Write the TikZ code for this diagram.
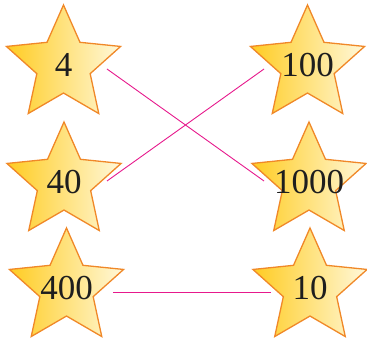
\documentclass[tikz,border=0pt]{standalone}
\usepackage{fontspec}
\setmainfont{Liberation Serif}
\usepackage{tikz}
\usetikzlibrary{shapes.geometric}
\definecolor{oro}{RGB}{255,204,34}
\definecolor{crema}{RGB}{255,248,218}
\definecolor{borde}{RGB}{240,136,40}
\definecolor{rosa}{RGB}{230,25,140}
\definecolor{tinta}{RGB}{30,30,30}
\tikzset{
  estrella/.style={star, star points=5, star point ratio=2.14, minimum size=120pt, inner sep=0pt,
    draw=borde, line width=1.3pt, left color=oro, right color=crema},
  num/.style={font=\fontsize{35}{40}\selectfont, text=tinta, inner sep=0pt},
  une/.style={rosa, line width=0.9pt},
}
\begin{document}
\begin{tikzpicture}[x=1pt,y=1pt]
  \useasboundingbox (0,0) rectangle (367,340);
  \node[estrella, label={[num]center:4}] (s4) at (63.5,275) {};
  \node[estrella, label={[num]center:40}] (s40) at (64,158) {};
  \node[estrella, label={[num]center:400}] (s400) at (66.5,52) {};
  \node[estrella, label={[num]center:100}] (s100) at (307.5,275) {};
  \node[estrella, label={[num]center:1000}] (s1000) at (309,158) {};
  \node[estrella, label={[num]center:10}] (s10) at (310,52) {};
  \draw[une] ([shift={(43.5,-4)}]s4.center) -- ([shift={(-45,1)}]s1000.center);
  \draw[une] ([shift={(43,1)}]s40.center) -- ([shift={(-43.5,-4)}]s100.center);
  \draw[une] ([shift={(46.5,-4)}]s400.center) -- ([shift={(-39,-4)}]s10.center);
\end{tikzpicture}
\end{document}
